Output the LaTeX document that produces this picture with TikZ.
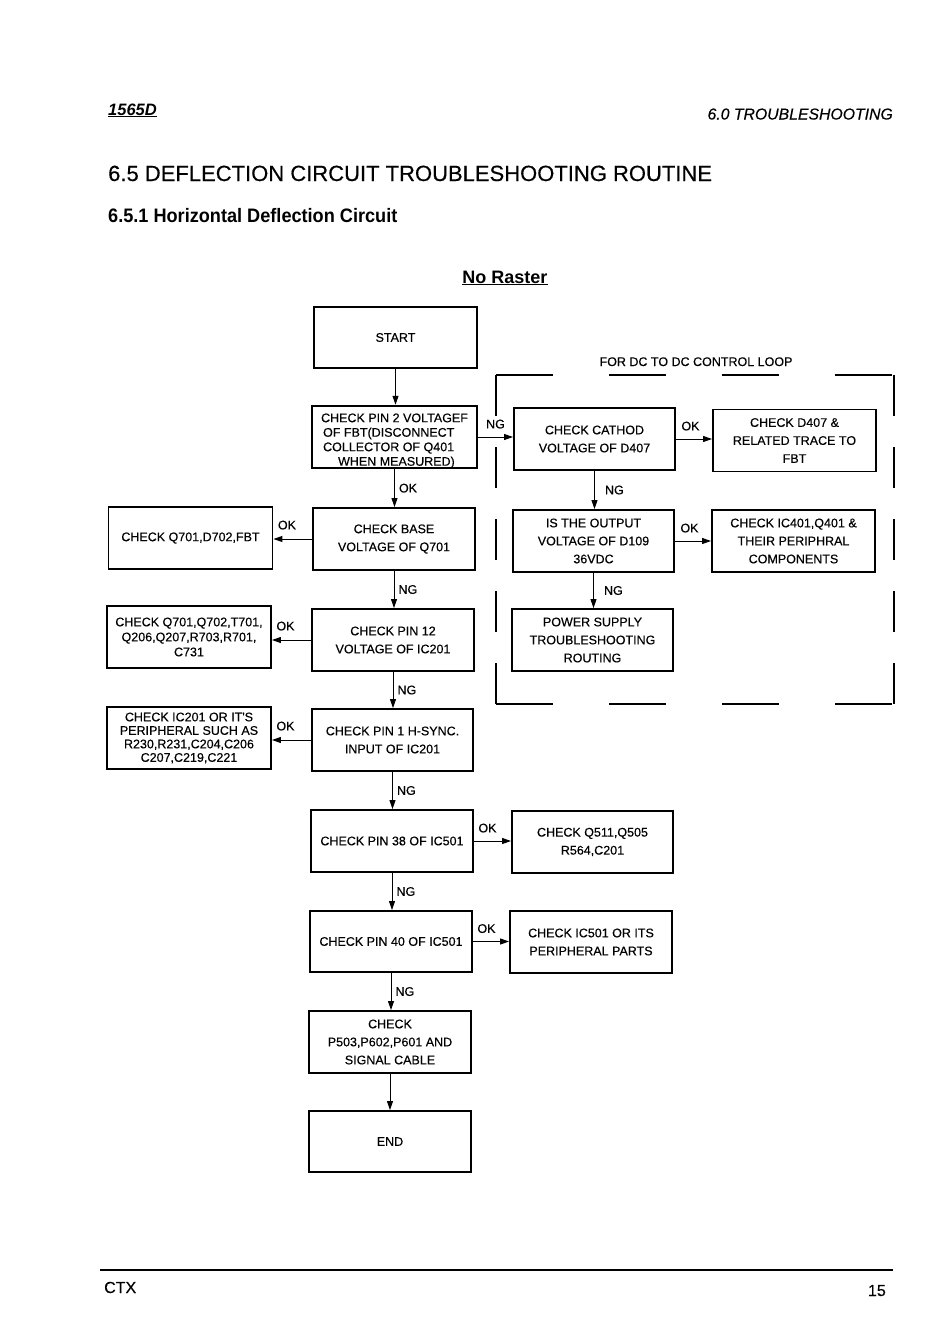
\documentclass[tikz,border=0pt]{standalone}
\usepackage{fontspec}
\setmainfont{Liberation Sans}
\newfontfamily\heavy{Liberation Sans}[FakeBold=0.35]
\usetikzlibrary{arrows.meta,positioning}
\newcommand{\bxfont}{\heavy\fontsize{12.5}{18}\selectfont}
\begin{document}
\begin{tikzpicture}[x=1pt,y=-1pt,
  box/.style={draw, line width=1.9pt, minimum width=162pt, minimum height=62pt,
    inner sep=2pt, align=center, font=\bxfont},
  lbox/.style={box, minimum width=164pt},
  arr/.style={-{Triangle[length=9pt,width=6pt]}, line width=1pt},
  lbl/.style={font=\bxfont, inner sep=2pt},
  dashbox/.style={line width=1.8pt}
]
\useasboundingbox (0,0) rectangle (950,1341);

% headers
\node[anchor=base west, inner sep=0, font=\fontsize{16.5}{17}\selectfont\bfseries\itshape] (hdrl) at (108,115) {\underline{1565D}};
\node[anchor=base east, inner sep=0, font=\heavy\fontsize{15.8}{16}\selectfont\itshape] (hdrr) at (893,119.5) {6.0 TROUBLESHOOTING};
\node[anchor=base west, inner sep=0, font=\heavy\fontsize{22}{24}\selectfont] (title) at (108,181) {6.5 DEFLECTION CIRCUIT TROUBLESHOOTING ROUTINE};
\node[anchor=base west, inner sep=0, xscale=0.93, font=\fontsize{19.5}{20}\selectfont\bfseries] (subtitle) at (108,222) {6.5.1 Horizontal Deflection Circuit};
\node[anchor=base, inner sep=0, font=\fontsize{18}{20}\selectfont\bfseries] (noraster) at (505,283) {\underline{No Raster}};
\node[anchor=base, inner sep=0, font=\bxfont] (loop) at (696,366) {FOR DC TO DC CONTROL LOOP};

% boxes
\node[box, minimum width=163pt, minimum height=61pt] (start) at (395.5,337.5) {START};
\node[box, minimum width=165pt, inner ysep=0pt, align=left, font=\heavy\fontsize{12.5}{14.5}\selectfont] (pin2) at (394.5,437) {\rule{0pt}{16.5pt}CHECK PIN 2 VOLTAGEF\\\hspace*{2pt}OF FBT(DISCONNECT\\\hspace*{2pt}COLLECTOR OF Q401\\\hspace*{17pt}WHEN MEASURED)};
\node[box, minimum width=161pt] (cath) at (594.5,439) {CHECK CATHOD\\VOLTAGE OF D407};
\node[box, minimum width=163pt] (d407) at (794.5,440.5) {CHECK D407 \&\\RELATED TRACE TO\\FBT};
\node[box] (base) at (394,539) {CHECK BASE\\VOLTAGE OF Q701};
\node[lbox] (q701) at (190.5,538) {CHECK Q701,D702,FBT};
\node[box, minimum width=161pt] (outp) at (593.5,541) {IS THE OUTPUT\\VOLTAGE OF D109\\36VDC};
\node[box, minimum width=163pt] (ic401) at (793.5,541) {CHECK IC401,Q401 \&\\THEIR PERIPHRAL\\COMPONENTS};
\node[box] (pin12) at (393,640) {CHECK PIN 12\\VOLTAGE OF IC201};
\node[lbox, font=\heavy\fontsize{12.5}{15}\selectfont] (q702) at (189,637) {CHECK Q701,Q702,T701,\\Q206,Q207,R703,R701,\\C731};
\node[box, minimum width=161pt] (power) at (592.5,640) {POWER SUPPLY\\TROUBLESHOOTING\\ROUTING};
\node[lbox, font=\heavy\fontsize{12.5}{13.5}\selectfont] (ic201) at (189,738) {CHECK IC201 OR IT'S\\PERIPHERAL SUCH AS\\R230,R231,C204,C206\\C207,C219,C221};
\node[box, minimum width=161pt] (pin1) at (392.5,740) {CHECK PIN 1 H-SYNC.\\INPUT OF IC201};
\node[box] (pin38) at (392,841) {CHECK PIN 38 OF IC501};
\node[box, minimum width=161pt] (q511) at (592.5,842) {CHECK Q511,Q505\\R564,C201};
\node[box, minimum height=61pt] (pin40) at (391,941.5) {CHECK PIN 40 OF IC501};
\node[box] (ic501) at (591,942) {CHECK IC501 OR ITS\\PERIPHERAL PARTS};
\node[box] (p503) at (390,1042) {CHECK\\P503,P602,P601 AND\\SIGNAL CABLE};
\node[box, minimum height=61pt] (end) at (390,1141.5) {END};

% vertical connectors (main column)
\draw[arr] (start.south) -- (start.south |- pin2.north);
\draw[arr] (pin2.south) -- (pin2.south |- base.north) node[lbl, midway, right=2pt] {OK};
\draw[arr] (base.south) -- (base.south |- pin12.north) node[lbl, midway, right=2pt] {NG};
\draw[arr] (pin12.south) -- (pin12.south |- pin1.north) node[lbl, midway, right=2pt] {NG};
\draw[arr] (pin1.south) -- (pin1.south |- pin38.north) node[lbl, midway, right=2pt] {NG};
\draw[arr] (pin38.south) -- (pin38.south |- pin40.north) node[lbl, midway, right=2pt] {NG};
\draw[arr] (pin40.south) -- (pin40.south |- p503.north) node[lbl, midway, right=2pt] {NG};
\draw[arr] (p503.south) -- (p503.south |- end.north);

% left connectors
\draw[arr] (base.west) -- (base.west -| q701.east) node[lbl, pos=1, above right=7pt and 2pt] {OK};
\draw[arr] (pin12.west) -- (pin12.west -| q702.east) node[lbl, pos=1, above right=7pt and 2pt] {OK};
\draw[arr] (pin1.west) -- (pin1.west -| ic201.east) node[lbl, pos=1, above right=7pt and 2pt] {OK};

% right connectors
\draw[arr] (pin2.east) -- (pin2.east -| cath.west) node[lbl, midway, above=6pt] {NG};
\draw[arr] (cath.east) -- (cath.east -| d407.west) node[lbl, pos=0, above right=6pt and 3pt] {OK};
\draw[arr] (cath.south) -- (cath.south |- outp.north) node[lbl, midway, right=8pt] {NG};
\draw[arr] (outp.east) -- (outp.east -| ic401.west) node[lbl, pos=0, above right=6pt and 3pt] {OK};
\draw[arr] (outp.south) -- (outp.south |- power.north) node[lbl, midway, right=8pt] {NG};
\draw[arr] (pin38.east) -- (pin38.east -| q511.west) node[lbl, pos=0, above right=6pt and 2pt] {OK};
\draw[arr] (pin40.east) -- (pin40.east -| ic501.west) node[lbl, pos=0, above right=6pt and 2pt] {OK};

% dashed loop frame
\draw[dashbox, dash pattern=on 57pt off 56pt] (496,375) -- (894,375);
\draw[dashbox, dash pattern=on 57pt off 56pt] (496,704) -- (894,704);
\draw[dashbox, dash pattern=on 41pt off 31pt] (496,375) -- (496,704);
\draw[dashbox, dash pattern=on 41pt off 31pt] (894,375) -- (894,704);

% footer
\draw[line width=2.5pt] (100,1270) -- (893,1270);
\node[anchor=base west, inner sep=0, font=\heavy\fontsize{16}{16}\selectfont] (ctx) at (104,1293) {CTX};
\node[anchor=base east, inner sep=0, font=\heavy\fontsize{16}{16}\selectfont] (page) at (886,1296) {15};
\end{tikzpicture}
\end{document}
